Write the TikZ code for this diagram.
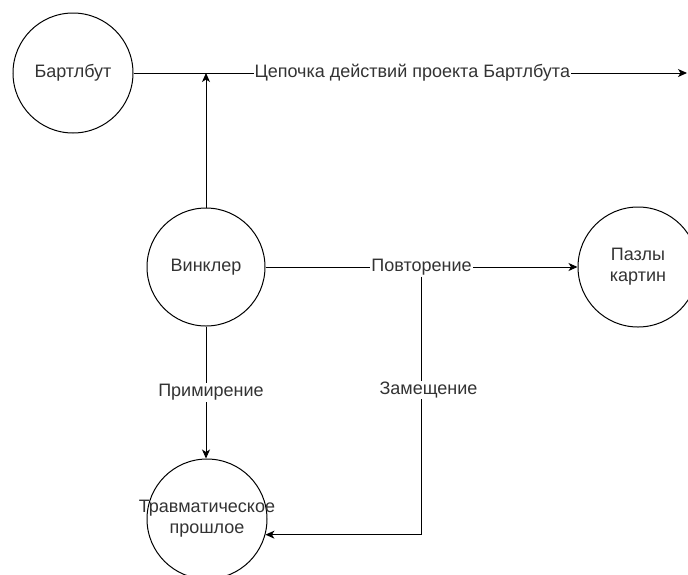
\documentclass[tikz,border=0pt]{standalone}
\usepackage{fontspec}
\setmainfont{Liberation Sans}
\usetikzlibrary{arrows.meta,calc,positioning}
\begin{document}
\begin{tikzpicture}[x=1pt,y=-1pt,
                    ent/.style={draw,circle,line width=1pt,minimum size=120pt,inner sep=0pt,align=center,text=black!80,font=\fontsize{18}{21}\selectfont},
                    lab/.style={fill=white,inner sep=1pt,text=black!80,font=\fontsize{18}{21}\selectfont},
                    arr/.style={line width=1pt,-{Stealth[length=9pt,width=8pt,inset=2.5pt]}}]
                    \useasboundingbox (0,0) rectangle (688,574);
                    \node[ent] (bart) at (73,73) {Бартлбут};
                    \node[ent,minimum size=118pt] (wink) at (206,267) {Винклер};
                    \node[ent] (pazl) at (638,267) {Пазлы\\картин};
                    \node[ent] (trav) at (207,519) {\makebox[0pt]{Травматическое}\\\makebox[0pt]{прошлое}};
                    \coordinate (end) at (687,73);
                    \draw[arr](bart)--(end)node[midway,lab,xshift=2pt]{Цепочка действий проекта Бартлбута};
                    \draw[arr](wink)--(wink |- bart);
                    \draw[arr](wink)--(pazl)node[midway,lab](rep){Повторение};
                    \draw[arr](wink)--(wink |- trav.north)node[midway,lab,xshift=5pt]{Примирение};
                    \draw[arr](rep.south)|-(trav.-15)node[pos=0.22,lab,xshift=7pt]{Замещение};
                \end{tikzpicture}
\end{document}
